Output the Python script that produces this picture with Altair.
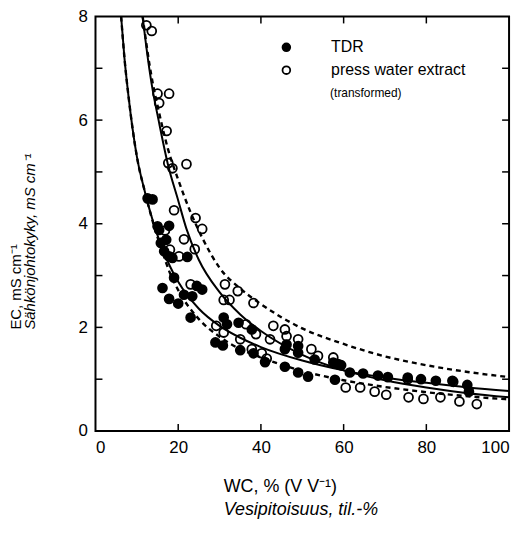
import altair as alt
import pandas as pd

# ---------------- data ----------------
tdr_wc = [12.6, 13.8, 15.0, 15.4, 15.8, 17.8, 17.1, 16.6, 17.8, 18.6, 22.2, 19.0, 21.4, 16.2, 17.8,
          20.0, 24.5, 23.4, 25.8, 23.0, 31.0, 31.8, 34.6, 29.0, 30.8, 35.0, 38.2, 41.0, 45.8, 49.0,
          51.4, 57.9, 45.8, 46.2, 49.0, 53.0, 57.5, 59.4, 37.8, 49.0, 58.7, 61.5, 64.7, 68.3, 70.7,
          75.5, 78.7, 82.3, 86.3, 89.9, 90.3]
tdr_ec = [4.49, 4.47, 3.95, 3.88, 3.63, 3.96, 3.69, 3.47, 3.37, 3.34, 3.36, 2.96, 2.63, 2.76, 2.55,
          2.46, 2.80, 2.60, 2.73, 2.19, 2.19, 2.06, 2.09, 1.71, 1.65, 1.56, 1.50, 1.33, 1.24, 1.13,
          1.05, 0.99, 1.58, 1.67, 1.51, 1.38, 1.32, 1.27, 1.96, 1.64, 1.29, 1.13, 1.11, 1.07, 1.04,
          1.03, 1.00, 0.97, 0.97, 0.89, 0.76]

press_wc = [12.3, 13.6, 15.0, 17.8, 15.4, 17.2, 17.6, 18.6, 22.0, 19.0, 24.2, 25.8, 21.4, 24.0, 16.8,
            18.0, 20.2, 31.3, 34.4, 31.0, 32.4, 38.2, 23.0, 29.2, 36.4, 31.0, 43.0, 45.8, 46.2, 49.0,
            42.2, 38.8, 37.8, 40.2, 41.4, 35.0, 52.2, 53.8, 57.5, 60.5, 64.0, 67.5, 70.3, 75.7, 79.3,
            83.4, 88.0, 92.2, 75.5, 86.5]
press_ec = [7.83, 7.72, 6.51, 6.51, 6.33, 5.79, 5.17, 5.07, 5.15, 4.26, 4.11, 3.90, 3.70, 3.51, 3.87,
            3.50, 3.37, 2.83, 2.70, 2.53, 2.53, 2.47, 2.83, 2.03, 2.06, 1.90, 2.03, 1.96, 1.83, 1.77,
            1.77, 1.87, 1.58, 1.50, 1.40, 1.77, 1.58, 1.45, 1.42, 0.84, 0.84, 0.76, 0.70, 0.65, 0.62,
            0.65, 0.57, 0.52, 1.00, 0.95]

# fitted curves
sl_x = [6.2, 7, 8, 10, 12, 14, 16, 18, 20, 25, 30, 35, 40, 50, 60, 70, 80, 90, 100]
sl_y = [8.0, 7.2, 6.45, 5.3, 4.6, 4.02, 3.56, 3.18, 2.88, 2.36, 2.03, 1.80, 1.62, 1.36, 1.17, 1.03, 0.93, 0.84, 0.77]

dl_x = [6.2, 7, 8, 10, 12, 14, 16, 18, 20, 25, 30, 35, 40, 50, 60, 70, 80, 90, 100]
dl_y = [8.0, 7.2, 6.45, 5.3, 4.6, 4.0, 3.5, 3.05, 2.72, 2.16, 1.82, 1.58, 1.42, 1.16, 0.98, 0.85, 0.75, 0.67, 0.61]

sr_x = [11.4, 12, 13, 14, 15, 17.5, 20, 22, 25, 30, 35, 40, 50, 60, 70, 80, 90, 100]
sr_y = [8.0, 7.6, 7.0, 6.5, 6.1, 5.15, 4.45, 3.9, 3.3, 2.68, 2.25, 1.93, 1.47, 1.17, 0.98, 0.84, 0.73, 0.65]

dr_x = [11.4, 12, 13, 14, 15, 17.5, 20, 23, 26, 30, 35, 40, 50, 60, 70, 80, 90, 100]
dr_y = [8.0, 7.65, 7.1, 6.65, 6.28, 5.45, 4.85, 4.22, 3.7, 3.15, 2.75, 2.45, 1.98, 1.68, 1.44, 1.27, 1.14, 1.04]

x_labels = [0, 20, 40, 60, 80, 100]
y_labels = [0, 2, 4, 6, 8]
x_minor = [20, 40, 60, 80]
y_minor = [1, 2, 3, 4, 5, 6, 7]

series_names = ["TDR", "press water extract"]

# ---------------- chart ----------------
W, H = 416, 417
FONT = "Liberation Sans"

xs = alt.Scale(domain=[0, 100], nice=False, zero=True)
ys = alt.Scale(domain=[0, 8], nice=False, zero=True)
xaxis = alt.Axis(values=x_labels, ticks=False, domain=False, grid=False, labelFontSize=17,
                 labelFont=FONT, labelColor="black", labelPadding=9, title=None)
yaxis = alt.Axis(values=y_labels, ticks=False, domain=False, grid=False, labelFontSize=17,
                 labelFont=FONT, labelColor="black", labelPadding=8, title=None)


def X(f):
    return alt.X(f, type="quantitative", scale=xs, axis=xaxis)


def Y(f):
    return alt.Y(f, type="quantitative", scale=ys, axis=yaxis)


pts = pd.concat([
    pd.DataFrame({"wc": tdr_wc, "ec": tdr_ec, "series": series_names[0]}),
    pd.DataFrame({"wc": press_wc, "ec": press_ec, "series": series_names[1]}),
])


def curve(xv, yv, dash):
    df = pd.DataFrame({"wc": xv, "ec": yv})
    kw = dict(color="black", strokeWidth=2 if not dash else 2.4, interpolate="monotone", clip=True)
    if dash:
        kw["strokeDash"] = [5, 4]
    return alt.Chart(df).mark_line(**kw).encode(x=X("wc"), y=Y("ec"))


lines = [curve(sl_x, sl_y, False), curve(dl_x, dl_y, True),
         curve(sr_x, sr_y, False), curve(dr_x, dr_y, True)]

points = alt.Chart(pts).mark_point(filled=True, size=80, stroke="black", strokeWidth=1.8,
                                   opacity=1, shape="circle").encode(
    x=X("wc"), y=Y("ec"),
    fill=alt.Fill("series:N", scale=alt.Scale(domain=series_names, range=["black", "transparent"]),
                  legend=alt.Legend(title=None, orient="none", legendX=184, legendY=23,
                                    symbolType="circle", symbolSize=60, symbolStrokeColor="black",
                                    symbolStrokeWidth=1.8, labelFontSize=16, labelFont=FONT,
                                    labelColor="black", labelOffset=37, rowPadding=7)),
)

xt = pd.DataFrame({"t": x_minor})
yt = pd.DataFrame({"t": y_minor})
tick_style = dict(color="black", strokeWidth=1.5)
ticks = [
    alt.Chart(xt).mark_rule(**tick_style).encode(x=X("t"), y=alt.value(H), y2=alt.value(H - 7)),
    alt.Chart(xt).mark_rule(**tick_style).encode(x=X("t"), y=alt.value(0), y2=alt.value(7)),
    alt.Chart(yt).mark_rule(**tick_style).encode(y=Y("t"), x=alt.value(0), x2=alt.value(7)),
    alt.Chart(yt).mark_rule(**tick_style).encode(y=Y("t"), x=alt.value(W - 7), x2=alt.value(W)),
]

one = pd.DataFrame({"a": [0]})


def label(txt, x, y, size, italic=False, angle=0, baseline="middle"):
    kw = dict(text=txt, align="left", baseline=baseline, fontSize=size, font=FONT, color="black")
    if italic:
        kw["fontStyle"] = "italic"
    if angle:
        kw["angle"] = angle
    return alt.Chart(one).mark_text(**kw).encode(x=alt.value(x), y=alt.value(y))


texts = [
    label("(transformed)", 236, 77, 12),
    label("WC, % (V V\u207b\u00b9)", 129, 473, 18),
    label("Vesipitoisuus, til.-%", 129, 496, 18, italic=True),
    label("EC, mS cm\u207b\u00b9", -75, 315, 15, angle=270, baseline="alphabetic"),
    label("Sähkönjohtokyky, mS cm\u207b\u00b9", -61, 315, 15, italic=True, angle=270,
          baseline="alphabetic"),
]

chart = alt.layer(*lines, *ticks, points, *texts).properties(
    width=W, height=H,
    padding={"left": 88, "top": 7, "right": 10, "bottom": 90},
    autosize=alt.AutoSizeParams(type="none"),
).configure_view(stroke="black", strokeWidth=2)

chart.save("out.html", embed_options={"renderer": "svg", "actions": False})
